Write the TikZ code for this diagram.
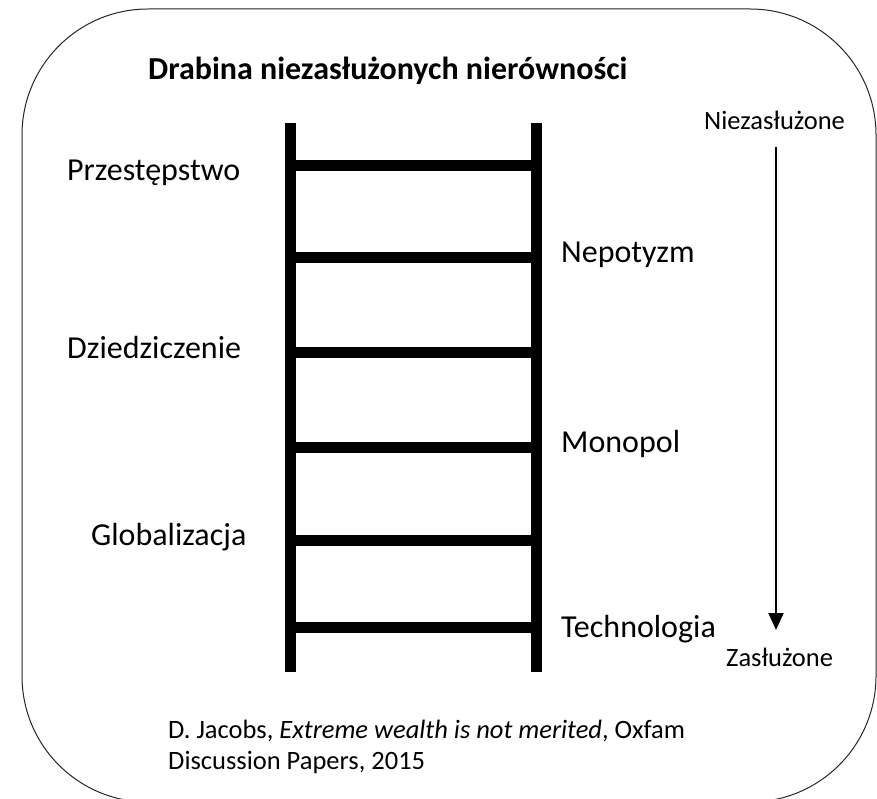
\documentclass[tikz,border=0pt]{standalone}
\usepackage{fontspec}
\setmainfont{Carlito}
\usetikzlibrary{arrows.meta}
\begin{document}
\begin{tikzpicture}[x=1pt,y=-1pt,
  frame/.style={draw=black!85,line width=1pt,rounded corners=126pt},
  rail/.style={line width=11pt,line cap=butt},
  rung/.style={line width=11pt,line cap=butt},
  lbl/.style={anchor=base west,inner sep=0pt,font=\fontsize{32}{38}\selectfont},
  small/.style={anchor=base west,inner sep=0pt,font=\fontsize{26.5}{31}\selectfont},
  cite/.style={anchor=base west,inner sep=0pt,font=\fontsize{26.5}{31}\selectfont,align=left},
  arr/.style={line width=2pt,-{Triangle[width=15pt,length=17pt]}}]
\useasboundingbox (0,0) rectangle (877,799);
\clip (0,0) rectangle (877,799);
\draw[frame] (22,9) rectangle (876,802);
% title
\node[anchor=base west,inner sep=0pt,font=\fontsize{32}{38}\selectfont\bfseries] (title) at (148,80) {Drabina niezasłużonych nierówności};
% ladder
\coordinate (LT) at (290.5,123);
\coordinate (LB) at (290.5,672);
\coordinate (RT) at (536,123);
\coordinate (RB) at (536,672);
\draw[rail] (LT) -- (LB);
\draw[rail] (RT) -- (RB);
\foreach \y [count=\i] in {166,258,352,447,540,627}{
  \coordinate (rl\i) at (290.5,\y);
  \coordinate (rr\i) at (536,\y);
  \draw[rung] (rl\i) -- (rr\i);
}
% labels
\node[lbl] (przest) at (67,181) {Przestępstwo};
\node[lbl] (nepot) at (561,263) {Nepotyzm};
\node[lbl] (dzied) at (67,358) {Dziedziczenie};
\node[lbl] (monop) at (561,452) {Monopol};
\node[lbl] (glob) at (91,545) {Globalizacja};
\node[lbl] (techn) at (561,637) {Technologia};
% arrow
\node[small] (niez) at (704,130) {Niezasłużone};
\node[small] (zasl) at (726,666) {Zasłużone};
\coordinate (arrTop) at (776,147);
\coordinate (arrBot) at (776,630);
\draw[arr] (arrTop) -- (arrBot);
% citation
\node[cite] (cite1) at (168,738) {D. Jacobs, \textit{Extreme wealth is not merited}, Oxfam};
\node[cite] (cite2) at (168,769) {Discussion Papers, 2015};
\end{tikzpicture}
\end{document}
